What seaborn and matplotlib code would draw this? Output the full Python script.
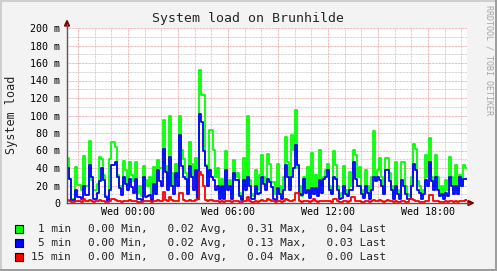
import numpy as np
import pandas as pd
import matplotlib
matplotlib.use("Agg")
import matplotlib.pyplot as plt
import seaborn as sns
from matplotlib.lines import Line2D
from matplotlib.patches import Rectangle, Polygon
from matplotlib.ticker import MultipleLocator, FuncFormatter

# ---------------- data (values in milli-load, ~7.2 min steps) ----------------
series_names = ["1 min", "5 min", "15 min"]
series_colors = ["#00FF00", "#0000FF", "#FF0000"]

load_1min = [51, 28, 5, 5, 41, 21, 21, 15, 54, 19,
             19, 71, 26, 15, 15, 22, 53, 50, 32, 8,
             5, 50, 70, 70, 64, 32, 20, 19, 48, 38,
             20, 47, 32, 25, 47, 12, 19, 8, 42, 26,
             20, 30, 10, 41, 15, 49, 40, 40, 95, 42,
             20, 99, 34, 20, 45, 30, 100, 61, 50, 34,
             15, 70, 45, 30, 51, 5, 152, 123, 123, 43,
             30, 84, 84, 61, 30, 40, 10, 28, 8, 59,
             20, 26, 10, 49, 30, 34, 12, 5, 51, 20,
             99, 26, 10, 8, 38, 15, 32, 55, 30, 20,
             56, 45, 24, 24, 10, 45, 19, 8, 30, 76,
             47, 20, 78, 61, 106, 40, 20, 8, 30, 15,
             41, 10, 57, 15, 32, 12, 61, 20, 30, 38,
             45, 20, 12, 59, 43, 20, 8, 12, 42, 15,
             12, 36, 20, 61, 55, 30, 41, 15, 8, 38,
             20, 8, 30, 82, 30, 38, 51, 30, 12, 51,
             51, 34, 20, 8, 47, 15, 8, 47, 47, 19,
             10, 8, 30, 68, 62, 25, 19, 8, 15, 55,
             30, 74, 30, 20, 55, 30, 12, 20, 8, 26,
             15, 53, 30, 15, 43, 15, 32, 20, 43, 40]
load_5min = [40, 28, 3, 3, 15, 7, 7, 5, 19, 9,
             9, 44, 30, 5, 5, 11, 25, 40, 26, 7,
             2, 15, 43, 43, 47, 30, 17, 9, 30, 22,
             15, 28, 18, 12, 28, 5, 5, 3, 30, 7,
             8, 9, 4, 22, 10, 38, 25, 20, 62, 36,
             15, 53, 19, 10, 34, 20, 78, 42, 30, 28,
             10, 42, 30, 15, 38, 5, 102, 93, 60, 42,
             20, 38, 30, 26, 15, 19, 5, 19, 5, 38,
             15, 19, 5, 34, 26, 26, 8, 3, 26, 15,
             30, 19, 5, 5, 19, 10, 12, 30, 22, 15,
             28, 24, 18, 5, 4, 17, 10, 5, 15, 43,
             30, 15, 30, 40, 66, 43, 10, 9, 28, 12,
             15, 6, 17, 10, 17, 8, 26, 12, 28, 30,
             38, 15, 10, 30, 28, 15, 5, 6, 19, 10,
             8, 15, 15, 47, 28, 20, 19, 10, 6, 19,
             12, 5, 15, 30, 25, 30, 26, 20, 10, 38,
             38, 25, 15, 5, 19, 10, 5, 26, 20, 10,
             5, 5, 20, 45, 38, 15, 12, 5, 10, 26,
             20, 47, 25, 15, 30, 15, 8, 10, 5, 12,
             8, 30, 20, 10, 19, 10, 30, 19, 28, 28]
load_15min = [3, 2, 1, 1, 2, 2, 2, 1, 5, 2,
              2, 4, 2, 1, 2, 2, 3, 2, 2, 1,
              1, 2, 5, 5, 3, 2, 2, 1, 2, 2,
              2, 3, 2, 2, 2, 1, 1, 1, 2, 2,
              2, 2, 1, 2, 2, 3, 2, 2, 13, 4,
              2, 7, 3, 2, 2, 2, 11, 11, 3, 2,
              2, 3, 2, 2, 3, 5, 36, 32, 20, 4,
              2, 3, 3, 2, 2, 2, 1, 2, 1, 2,
              2, 2, 1, 2, 2, 2, 1, 1, 2, 2,
              7, 2, 1, 1, 2, 1, 2, 3, 2, 2,
              5, 3, 2, 2, 1, 2, 2, 1, 2, 5,
              3, 2, 2, 3, 11, 11, 2, 1, 2, 2,
              2, 1, 2, 5, 2, 1, 2, 2, 2, 2,
              2, 2, 1, 5, 5, 2, 1, 1, 2, 2,
              1, 2, 7, 7, 2, 2, 2, 1, 1, 2,
              2, 1, 2, 3, 2, 2, 3, 2, 1, 2,
              3, 2, 2, 1, 2, 1, 1, 2, 2, 1,
              1, 5, 5, 3, 2, 2, 1, 1, 1, 2,
              2, 9, 9, 2, 2, 2, 1, 1, 1, 2,
              1, 2, 2, 1, 2, 1, 2, 2, 2, 3]

# hours relative to Wed 00:00
start_hour = -3.66
window_hours = 24.0
tick_hours = [0, 6, 12, 18]
tick_labels = ["Wed 00:00", "Wed 06:00", "Wed 12:00", "Wed 18:00"]

leg_min = [0.00, 0.00, 0.00]
leg_avg = [0.02, 0.02, 0.00]
leg_max = [0.31, 0.13, 0.04]
leg_last = [0.04, 0.03, 0.00]

title = "System load on Brunhilde"
ylabel = "System load"
watermark = "RRDTOOL / TOBI OETIKER"

# ---------------- build frame ----------------
n = len(load_1min)
step = window_hours / n
hours = start_hour + np.arange(n + 1) * step
vals = {
    "1 min": load_1min + [load_1min[-1]],
    "5 min": load_5min + [load_5min[-1]],
    "15 min": load_15min + [load_15min[-1]],
}
df = pd.DataFrame({"hour": hours, **vals})
long = df.melt(id_vars="hour", var_name="series", value_name="load")

# ---------------- figure ----------------
W, H = 497, 271
MONO = "DejaVu Sans Mono"
sns.set_style("white")
plt.rcParams["font.family"] = [MONO]

fig = plt.figure(figsize=(W / 100, H / 100), dpi=100, facecolor="#F3F3F3")
ax = fig.add_axes([67 / W, 1 - 203 / H, 400 / W, 175 / H])
ax.set_facecolor("white")

sns.lineplot(data=long, x="hour", y="load", hue="series",
             hue_order=series_names,
             palette=dict(zip(series_names, series_colors)),
             drawstyle="steps-post", linewidth=1.3, estimator=None,
             legend=False, ax=ax)

ax.set_xlim(start_hour, start_hour + window_hours)
ax.set_ylim(0, 200)
ax.set_xlabel("")
ax.set_ylabel("")

# grid
ax.xaxis.set_major_locator(MultipleLocator(3))
ax.xaxis.set_minor_locator(MultipleLocator(1))
ax.yaxis.set_major_locator(MultipleLocator(20))
ax.yaxis.set_minor_locator(MultipleLocator(10))
lab_map = dict(zip(tick_hours, tick_labels))
ax.xaxis.set_major_formatter(FuncFormatter(
    lambda v, p: lab_map.get(int(round(v)), "") if abs(v - round(v)) < 1e-6 else ""))
ax.yaxis.set_major_formatter(FuncFormatter(
    lambda v, p: "0" if v == 0 else f"{v:g} m"))
dots = (0, (0.72, 0.72))
ax.grid(which="minor", color="#C6C6C6", linestyle=dots, linewidth=0.72)
ax.grid(which="major", color="#EBA0A0", linestyle=dots, linewidth=0.72)
ax.set_axisbelow(True)

ax.tick_params(which="both", length=0)
ax.tick_params(axis="y", labelsize=7.2, pad=5, colors="black")
ax.tick_params(axis="x", labelsize=7.2, pad=2.8, colors="black")
for s in ["top", "right"]:
    ax.spines[s].set_visible(False)
for s in ["left", "bottom"]:
    ax.spines[s].set_color("#555555")
    ax.spines[s].set_linewidth(1.0)

def fx(px):
    return px / W

def fy(py):
    return 1 - py / H

# axis extensions and arrows
fig.add_artist(Line2D([fx(67), fx(67)], [fy(28), fy(24)], color="#555555", lw=1.0))
fig.add_artist(Line2D([fx(467), fx(469)], [fy(203), fy(203)], color="#555555", lw=1.0))
fig.add_artist(Polygon([[fx(64.5), fy(26)], [fx(69.5), fy(26)], [fx(67), fy(20.5)]],
                       closed=True, color="#7F0000", transform=fig.transFigure))
fig.add_artist(Polygon([[fx(468), fy(200.5)], [fx(468), fy(205.5)], [fx(473.5), fy(203)]],
                       closed=True, color="#7F0000", transform=fig.transFigure))

# frame (3D shade)
fig.add_artist(Rectangle((0, fy(2)), 1, 2 / H, transform=fig.transFigure, color="#CFCFCF", lw=0))
fig.add_artist(Rectangle((0, 0), 2 / W, 1, transform=fig.transFigure, color="#CFCFCF", lw=0))
fig.add_artist(Rectangle((0, 0), 1, 2 / H, transform=fig.transFigure, color="#9E9E9E", lw=0))
fig.add_artist(Rectangle((fx(495), 0), 2 / W, 1, transform=fig.transFigure, color="#9E9E9E", lw=0))

# texts
fig.text(0.5, fy(19), title, ha="center", va="center", fontsize=9.5, family=MONO)
fig.text(fx(11.5), fy(115), ylabel, ha="center", va="center", rotation=90,
         fontsize=8.5, family=MONO)
fig.text(fx(488.5), fy(5), watermark, ha="center", va="top", rotation=270,
         fontsize=6.0, family=MONO, color="#A6A6A6")

# legend
row_y = [229, 243, 257]
for name, col, mn, av, mx, ls, y in zip(series_names, series_colors, leg_min, leg_avg,
                                          leg_max, leg_last, row_y):
    fig.add_artist(Rectangle((fx(15), fy(y + 4)), 8 / W, 8 / H, transform=fig.transFigure,
                             facecolor=col, edgecolor="black", lw=0.8))
    fig.text(fx(71), fy(y), name, ha="right", va="center", fontsize=7.9, family=MONO)
    fig.text(fx(88), fy(y),
             f"{mn:.2f} Min,   {av:.2f} Avg,   {mx:.2f} Max,   {ls:.2f} Last",
             ha="left", va="center", fontsize=7.9, family=MONO)

fig.savefig("out.png", dpi=100, facecolor=fig.get_facecolor())
